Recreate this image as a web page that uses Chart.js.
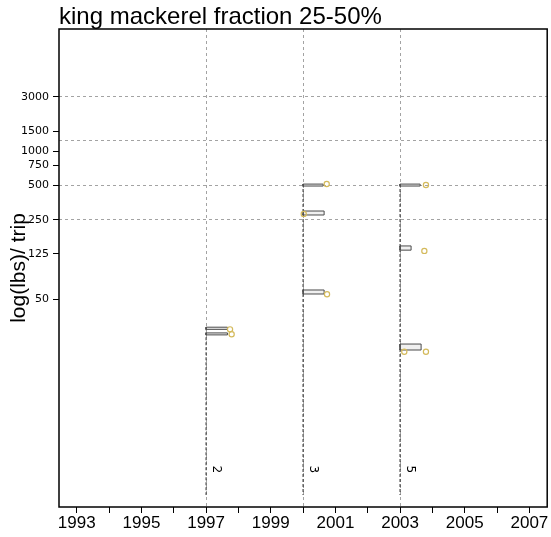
<!DOCTYPE html>
<html><head><meta charset="utf-8">
<script src="https://cdn.jsdelivr.net/npm/chart.js@4/dist/chart.umd.min.js"></script>
<style>html,body{margin:0;padding:0;background:#fff;}canvas{display:block;}</style>
</head><body>
<canvas id="c" width="551" height="537"></canvas>
<script>
// ---- data ----
const chartTitle = 'king mackerel fraction 25-50%';
const yAxisTitle = 'log(lbs)/ trip';
const years = [1997, 2000, 2003];
const nObs = [2, 3, 5];
// histogram bins per year (value range low/high, bar length in years)
const binLow = [[27.2, 24.3], [494, 275, 55.6], [494, 135, 17.9]];
const binHigh = [[28.4, 25.3], [514, 298, 60.3], [514, 147, 20.2]];
const binLength = [[0.66, 0.66], [0.62, 0.65, 0.65], [0.62, 0.34, 0.65]];
const stemBottom = 0.95;
// circles
const pointYears = [1997.74, 1997.79, 2000.73, 2000.02, 2000.74, 2003.8, 2003.75, 2003.13, 2003.8];
const pointValues = [27.2, 24.6, 515, 281, 55.3, 504, 133, 17.3, 17.3];
// axes
const xTickValues = [1993, 1994, 1995, 1996, 1997, 1998, 1999, 2000, 2001, 2002, 2003, 2004, 2005, 2006, 2007];
const xLabelValues = [1993, 1995, 1997, 1999, 2001, 2003, 2005, 2007];
const xGridValues = [1997, 2000, 2003];
const yTickValues = [3000, 1500, 1000, 750, 500, 250, 125, 50];
const yGridValues = [3000, 1250, 500, 250];
const xRange = [1992.45, 2007.55];
const yRange = [0.747, 11850];
const nLabelValue = 1.6;

// ---- styles ----
const GRID = '#a3a3a3';
const BAR_EDGE = '#4a4a4a';
const BAR_FILL = '#f0f0f0';
const DOT = '#d4ba5c';

const datasets = [];
datasets.push({
  type: 'line', label: 'obs', order: 0, showLine: false,
  data: pointYears.map((x, i) => ({x, y: pointValues[i]})),
  pointRadius: 2.6, pointHoverRadius: 2.6, pointBorderWidth: 1.2,
  pointBorderColor: DOT, pointBackgroundColor: 'rgba(0,0,0,0)'
});
years.forEach((yr, k) => {
  binLow[k].forEach((lo, j) => {
    const hi = binHigh[k][j], len = binLength[k][j];
    datasets.push({
      type: 'line', order: 1,
      data: [{x: yr, y: lo}, {x: yr + len, y: lo}, {x: yr + len, y: hi}, {x: yr, y: hi}, {x: yr, y: lo}],
      borderColor: BAR_EDGE, borderWidth: 1, backgroundColor: BAR_FILL, fill: 'shape',
      pointRadius: 0, pointHoverRadius: 0, tension: 0
    });
  });
  const top = Math.max(...binHigh[k]);
  datasets.push({
    type: 'line', order: 2,
    data: [{x: yr, y: top}, {x: yr, y: stemBottom}],
    borderColor: '#444444', borderWidth: 1.2, borderDash: [3, 2], fill: false,
    pointRadius: 0, pointHoverRadius: 0
  });
});

const framePlugin = {
  id: 'frame',
  afterDraw(chart) {
    const {ctx, chartArea: a} = chart;
    ctx.save();
    ctx.strokeStyle = '#000';
    ctx.lineWidth = 1.5;
    ctx.strokeRect(a.left, a.top, a.right - a.left, a.bottom - a.top);
    ctx.restore();
  }
};
const nPlugin = {
  id: 'nlabels',
  afterDatasetsDraw(chart) {
    const {ctx} = chart;
    const xs = chart.scales.x, ys = chart.scales.y;
    ctx.save();
    ctx.fillStyle = '#000';
    ctx.font = '12px "DejaVu Sans"';
    ctx.textAlign = 'center';
    ctx.textBaseline = 'middle';
    years.forEach((yr, k) => {
      ctx.save();
      ctx.translate(xs.getPixelForValue(yr) + 10, ys.getPixelForValue(nLabelValue));
      ctx.rotate(Math.PI / 2);
      ctx.fillText(String(nObs[k]), 0, 0);
      ctx.restore();
    });
    ctx.restore();
  }
};

Chart.defaults.color = '#000';
new Chart(document.getElementById('c'), {
  type: 'line',
  data: {datasets},
  options: {
    responsive: false, animation: false, devicePixelRatio: 1,
    layout: {padding: {left: 0, right: 3, top: 0, bottom: 0}},
    plugins: {
      legend: {display: false}, tooltip: {enabled: false},
      title: {
        display: true, text: chartTitle, align: 'start', fullSize: false,
        font: {family: '"Liberation Sans", Arial, sans-serif', size: 24, weight: 'normal', lineHeight: 1},
        padding: {top: 5, bottom: 0}, color: '#000'
      }
    },
    scales: {
      x: {
        type: 'linear', position: 'bottom', min: xRange[0], max: xRange[1], bounds: 'data',
        afterBuildTicks: s => { s.ticks = xTickValues.map(v => ({value: v})); },
        afterFit: s => { s.height = 30; },
        ticks: {
          autoSkip: false, maxRotation: 0, padding: 0,
          callback: v => xLabelValues.includes(v) ? String(v) : '',
          font: {family: '"Liberation Sans", Arial, sans-serif', size: 17}
        },
        grid: {
          color: c => (c.tick && xGridValues.includes(c.tick.value)) ? GRID : 'rgba(0,0,0,0)',
          tickColor: '#000', tickLength: 6, lineWidth: 1, tickWidth: 1, borderDash: [3, 3]
        },
        border: {display: false, dash: [3, 3]}
      },
      y: {
        type: 'logarithmic', position: 'left', min: yRange[0], max: yRange[1], bounds: 'data',
        afterBuildTicks: s => {
          const all = Array.from(new Set(yTickValues.concat(yGridValues))).sort((a, b) => a - b);
          s.ticks = all.map(v => ({value: v}));
        },
        afterFit: s => { s.width = 59; },
        ticks: {
          autoSkip: false, padding: 4,
          callback: v => yTickValues.includes(v) ? String(v) : '',
          font: {family: '"DejaVu Sans", sans-serif', size: 11}
        },
        grid: {
          color: c => (c.tick && yGridValues.includes(c.tick.value)) ? GRID : 'rgba(0,0,0,0)',
          tickColor: c => (c.tick && yTickValues.includes(c.tick.value)) ? '#000' : 'rgba(0,0,0,0)',
          tickLength: 6, lineWidth: 1, tickWidth: 1, borderDash: [3, 3]
        },
        border: {display: false, dash: [3, 3]},
        title: {
          display: true, text: yAxisTitle, color: '#000',
          font: {family: '"Liberation Sans", Arial, sans-serif', size: 21},
          padding: {top: 7, bottom: 0}
        }
      }
    }
  },
  plugins: [framePlugin, nPlugin]
});
</script>
</body></html>
